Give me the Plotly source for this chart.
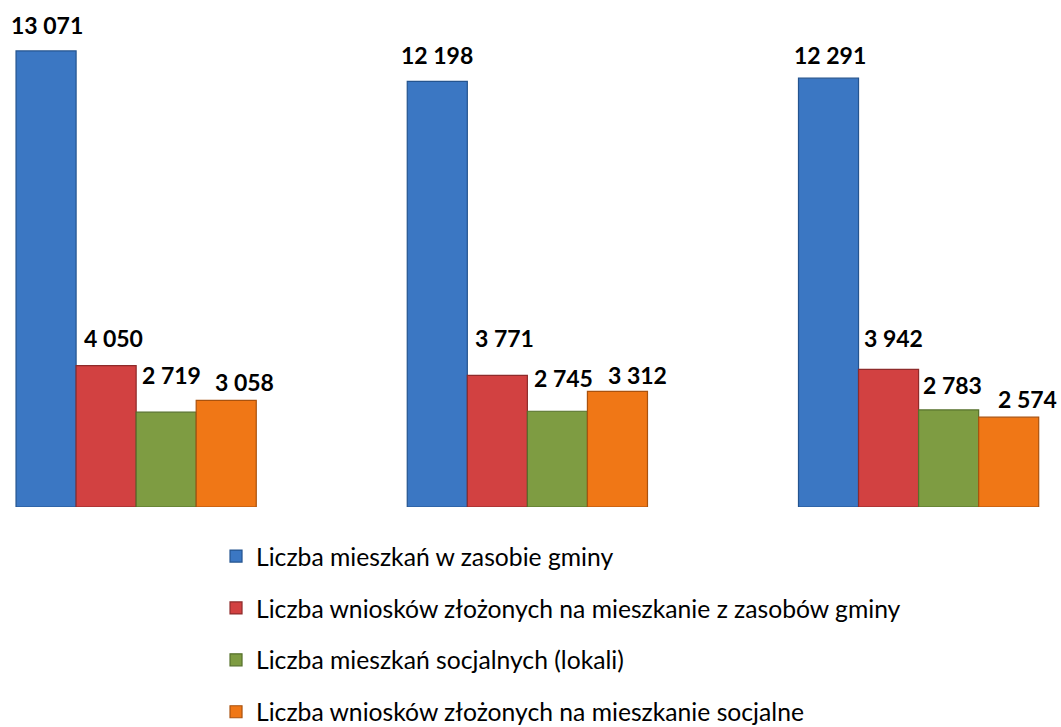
import plotly.graph_objects as go

groups = [0, 1, 2]
series_names = [
    "Liczba mieszkań w zasobie gminy",
    "Liczba wniosków złożonych na mieszkanie z zasobów gminy",
    "Liczba mieszkań socjalnych (lokali)",
    "Liczba wniosków złożonych na mieszkanie socjalne",
]
mieszkania_gminy = [13071, 12198, 12291]
wnioski_gminy = [4050, 3771, 3942]
mieszkania_socjalne = [2719, 2745, 2783]
wnioski_socjalne = [3058, 3312, 2574]

series_values = [mieszkania_gminy, wnioski_gminy, mieszkania_socjalne, wnioski_socjalne]

fill_colors = ["#3b77c3", "#d24141", "#7e9c42", "#f07716"]
line_colors = ["#24548f", "#8e2b2b", "#55702b", "#a9520e"]

# label placement tweaks as in the original (px: right, up from bar top)
label_nudge = [
    [(1, 26), (0, 26), (1, 23)],
    [(7, 28), (7, 37), (5, 31)],
    [(5, 37), (6, 33), (4, 25)],
    [(18, 18), (20, 16), (19, 18)],
]

bargap = 0.386
bar_w = (1 - bargap) / len(series_values)


def fmt(v):
    return f"{v:,}".replace(",", " ")


fig = go.Figure()
annotations = []
for i, (name, vals) in enumerate(zip(series_names, series_values)):
    fig.add_trace(
        go.Bar(
            x=groups,
            y=vals,
            name=name,
            legendgroup=str(i),
            marker=dict(color=fill_colors[i], line=dict(color=line_colors[i], width=1.2)),
            hoverinfo="y",
        )
    )
    for g, v in zip(groups, vals):
        dx, up = label_nudge[i][g]
        annotations.append(
            dict(
                x=g - (1 - bargap) / 2 + bar_w * (i + 0.5),
                y=v,
                text=f"<b>{fmt(v)}</b>",
                showarrow=False,
                xanchor="center",
                yanchor="middle",
                xshift=dx,
                yshift=up,
                font=dict(family="Lato, Carlito, sans-serif", size=23, color="#000000"),
            )
        )

fig.update_layout(
    width=1061,
    height=727,
    barmode="group",
    bargap=bargap,
    bargroupgap=0,
    plot_bgcolor="white",
    paper_bgcolor="white",
    margin=dict(l=0, r=0, t=0, b=0, autoexpand=False),
    font=dict(family="Lato, Carlito, sans-serif", color="#000000"),
    xaxis=dict(visible=False, range=[-0.348, 2.364]),
    yaxis=dict(visible=False, range=[0, 14530], domain=[0.3026, 1]),
    annotations=annotations,
    showlegend=True,
    legend=dict(
        x=0.2036,
        y=0.2662,
        xanchor="left",
        yanchor="top",
        orientation="v",
        tracegroupgap=16.8,
        font=dict(size=24.7),
        itemwidth=30,
    ),
)

fig.write_html(
    "out.html",
    config={"displayModeBar": False},
    post_script="document.body.style.margin='0';",
)
